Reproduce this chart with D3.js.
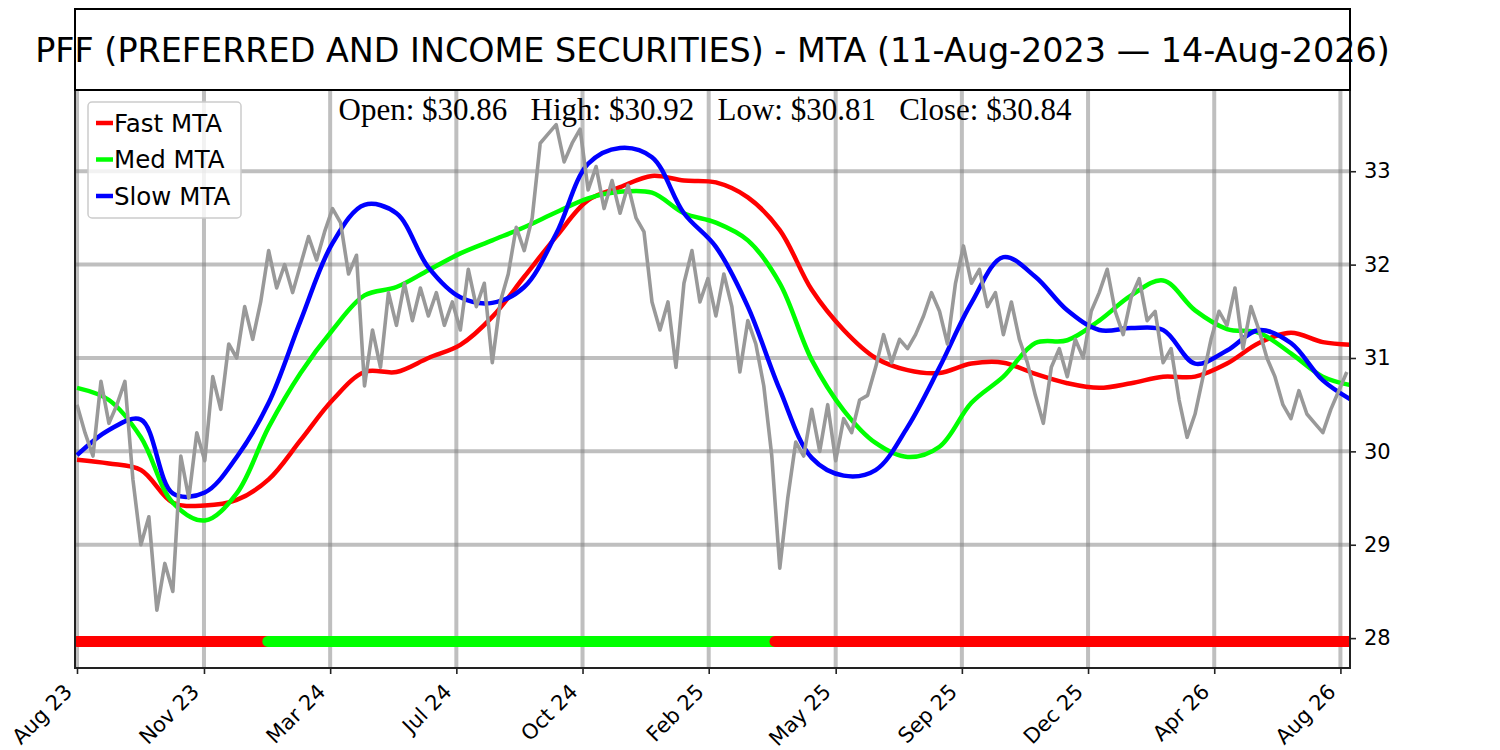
<!DOCTYPE html>
<html>
<head>
<meta charset="utf-8">
<script src="https://cdn.jsdelivr.net/npm/d3@7"></script>
<style>
    body { margin: 0; background: white; }
    text { font-family: "DejaVu Sans", sans-serif; }
</style>
</head>
<body>
<script>
"use strict";

// ticks (positions are bar indices, labels are months)
var tickIdx = [0, 15.9, 31.7, 47.5, 63.3, 79.1, 95.0, 110.8, 126.6, 142.4, 158.2];
var tickLabels = ["Aug 23", "Nov 23", "Mar 24", "Jul 24", "Oct 24", "Feb 25",
    "May 25", "Sep 25", "Dec 25", "Apr 26", "Aug 26"];
var yTicks = [28, 29, 30, 31, 32, 33];

// price, one value every ~5 trading days
var price = [
    30.5, 30.2, 29.95, 30.75, 30.3, 30.5, 30.75, 29.7, 29.0, 29.3,
    28.3, 28.8, 28.5, 29.95, 29.5, 30.2, 29.9, 30.8, 30.45, 31.15,
    31.0, 31.55, 31.2, 31.6, 32.15, 31.75, 32.0, 31.7, 32.0, 32.3,
    32.05, 32.35, 32.6, 32.45, 31.9, 32.1, 30.7, 31.3, 30.9, 31.7,
    31.35, 31.8, 31.4, 31.75, 31.45, 31.7, 31.35, 31.6, 31.3, 31.95,
    31.55, 31.8, 30.95, 31.6, 31.9, 32.4, 32.15, 32.5, 33.3, 33.4,
    33.5, 33.1, 33.3, 33.45, 32.8, 33.05, 32.6, 32.9, 32.55, 32.85,
    32.5, 32.35, 31.6, 31.3, 31.6, 30.9, 31.8, 32.15, 31.6, 31.85,
    31.45, 31.9, 31.55, 30.85, 31.4, 31.15, 30.7, 29.95, 28.75, 29.5,
    30.1, 29.95, 30.45, 30.0, 30.5, 29.9, 30.35, 30.2, 30.55, 30.6,
    30.9, 31.25, 30.95, 31.2, 31.1, 31.25, 31.45, 31.7, 31.5, 31.15,
    31.8, 32.2, 31.8, 31.95, 31.55, 31.7, 31.25, 31.6, 31.2, 30.95,
    30.6, 30.3, 30.9, 31.1, 30.8, 31.2, 31.0, 31.5, 31.7, 31.95,
    31.5, 31.25, 31.65, 31.85, 31.4, 31.5, 30.95, 31.1, 30.55, 30.15,
    30.4, 30.8, 31.2, 31.5, 31.35, 31.75, 31.1, 31.55, 31.3, 31.0,
    30.8, 30.5, 30.35, 30.65, 30.4, 30.3, 30.2, 30.45, 30.65, 30.85
];

// moving trend averages, one value every 4 price bars
var fastMta = [
    29.91, 29.87, 29.8, 29.45, 29.42, 29.48, 29.7, 30.12, 30.55, 30.85,
    30.85, 31.0, 31.14, 31.44, 31.87, 32.3, 32.69, 32.83, 32.95, 32.9,
    32.88, 32.72, 32.37, 31.73, 31.3, 31.0, 30.87, 30.84, 30.94, 30.95,
    30.83, 30.73, 30.68, 30.73, 30.8, 30.8, 30.94, 31.16, 31.27, 31.17, 31.14
];
var medMta = [
    30.68, 30.55, 30.15, 29.45, 29.26, 29.55, 30.26, 30.84, 31.3, 31.67,
    31.76, 31.94, 32.12, 32.26, 32.4, 32.56, 32.71, 32.78, 32.77, 32.55,
    32.45, 32.26, 31.8, 30.98, 30.44, 30.09, 29.94, 30.05, 30.52, 30.8,
    31.16, 31.19, 31.4, 31.67, 31.83, 31.51, 31.31, 31.27, 31.05, 30.8, 30.7
];
var slowMta = [
    29.96, 30.23, 30.34, 29.55, 29.56, 29.94, 30.52, 31.4, 32.23, 32.64,
    32.55, 31.97, 31.65, 31.59, 31.76, 32.33, 33.08, 33.25, 33.15, 32.55,
    32.19, 31.55, 30.66, 29.93, 29.74, 29.8, 30.26, 30.9, 31.59, 32.08,
    31.87, 31.51, 31.3, 31.32, 31.3, 30.94, 31.08, 31.3, 31.16, 30.76, 30.53
];
var mtaStep = 4;

// trend signal bands along the bottom
var signalStart = [0, 23.9, 87.4];
var signalEnd = [23.9, 87.4, 162];
var signalColor = ["#ff0000", "#00ff00", "#ff0000"];
var signalLevel = 27.965;

var seriesNames = ["Fast MTA", "Med MTA", "Slow MTA"];
var seriesColors = ["#ff0000", "#00ff00", "#0000ff"];

var titleText = "PFF (PREFERRED AND INCOME SECURITIES) - MTA (11-Aug-2023 \u2014 14-Aug-2026)";
var ohlcText = "Open: $30.86   High: $30.92   Low: $30.81   Close: $30.84";

var widthEcran = 1500, heightEcran = 750;
var plotLeft = 75, plotRight = 1350, plotTop = 90, plotBottom = 668;

var svg = d3.select("body").append("svg")
    .attr("width", widthEcran)
    .attr("height", heightEcran);

var x = d3.scaleLinear().domain([-0.25, 159.4]).range([plotLeft, plotRight]);
var y = d3.scaleLinear().domain([27.68, 33.87]).range([plotBottom, plotTop]);

svg.append("clipPath").attr("id", "plotClip")
    .append("rect")
    .attr("x", plotLeft).attr("y", plotTop)
    .attr("width", plotRight - plotLeft).attr("height", plotBottom - plotTop);

// grid
var grid = svg.append("g").attr("stroke", "#808080").attr("stroke-opacity", 0.5).attr("stroke-width", 4);
grid.selectAll(".vgrid").data(tickIdx).enter().append("line")
    .attr("x1", function(d) { return x(d); })
    .attr("x2", function(d) { return x(d); })
    .attr("y1", plotTop).attr("y2", plotBottom);
grid.selectAll(".hgrid").data(yTicks).enter().append("line")
    .attr("x1", plotLeft).attr("x2", plotRight)
    .attr("y1", function(d) { return y(d); })
    .attr("y2", function(d) { return y(d); });

var plot = svg.append("g").attr("clip-path", "url(#plotClip)");

// MTA lines
var mtaLine = d3.line()
    .x(function(d, i) { return x(i * mtaStep); })
    .y(function(d) { return y(d); })
    .curve(d3.curveCatmullRom);
[fastMta, medMta, slowMta].forEach(function(s, k) {
    plot.append("path")
        .attr("d", mtaLine(s))
        .attr("fill", "none")
        .attr("stroke", seriesColors[k])
        .attr("stroke-width", 4.5)
        .attr("stroke-linejoin", "round");
});

// price
var priceLine = d3.line()
    .x(function(d, i) { return x(i); })
    .y(function(d) { return y(d); });
plot.append("path")
    .attr("d", priceLine(price))
    .attr("fill", "none")
    .attr("stroke", "#999999")
    .attr("stroke-width", 3.6)
    .attr("stroke-linejoin", "round");

// signal band
plot.selectAll(".signal").data(signalStart).enter().append("line")
    .attr("x1", function(d) { return x(d); })
    .attr("x2", function(d, i) { return x(signalEnd[i]); })
    .attr("y1", y(signalLevel)).attr("y2", y(signalLevel))
    .attr("stroke", function(d, i) { return signalColor[i]; })
    .attr("stroke-width", 11)
    .attr("stroke-linecap", "round");

// axes
var xAxis = d3.axisBottom(x)
    .tickValues(tickIdx)
    .tickFormat(function(d, i) { return tickLabels[i]; })
    .tickSize(6);
var gx = svg.append("g").attr("transform", "translate(0," + plotBottom + ")").call(xAxis);
gx.select(".domain").remove();
gx.selectAll(".tick line").attr("stroke", "#222").attr("stroke-width", 1.6);
gx.selectAll(".tick text")
    .attr("font-size", "21px")
    .attr("font-family", "DejaVu Sans")
    .attr("fill", "black")
    .attr("text-anchor", "end")
    .attr("y", 0).attr("dy", 0)
    .attr("transform", "translate(-4,25) rotate(-45)");

var yAxis = d3.axisRight(y).tickValues(yTicks).tickFormat(d3.format("d")).tickSize(6).tickPadding(8);
var gy = svg.append("g").attr("transform", "translate(" + plotRight + ",0)").call(yAxis);
gy.select(".domain").remove();
gy.selectAll(".tick line").attr("stroke", "#222").attr("stroke-width", 1.6);
gy.selectAll(".tick text")
    .attr("font-size", "21px")
    .attr("font-family", "DejaVu Sans")
    .attr("fill", "black");

// frame
svg.append("path")
    .attr("d", "M" + plotLeft + "," + plotTop + "V" + plotBottom + "H" + plotRight + "V" + plotTop)
    .attr("fill", "none")
    .attr("stroke", "#222")
    .attr("stroke-width", 2);

// title box
svg.append("rect")
    .attr("x", plotLeft).attr("y", 9)
    .attr("width", plotRight - plotLeft).attr("height", plotTop - 9)
    .attr("fill", "white")
    .attr("stroke", "black")
    .attr("stroke-width", 2);
svg.append("text")
    .attr("x", (plotLeft + plotRight) / 2)
    .attr("y", 62)
    .attr("text-anchor", "middle")
    .attr("font-size", "33.4px")
    .text(titleText);

svg.append("text")
    .attr("x", 705)
    .attr("y", 120)
    .attr("text-anchor", "middle")
    .attr("font-size", "31px")
    .style("font-family", "'Liberation Serif', 'DejaVu Serif', serif")
    .style("white-space", "pre")
    .text(ohlcText);

// legend
var legend = svg.append("g");
legend.append("rect")
    .attr("x", 88).attr("y", 102)
    .attr("width", 153).attr("height", 116)
    .attr("rx", 4)
    .attr("fill", "white").attr("fill-opacity", 0.8)
    .attr("stroke", "#cccccc").attr("stroke-width", 1.5);
seriesNames.forEach(function(name, k) {
    var ly = 123 + k * 36.5;
    legend.append("line")
        .attr("x1", 96).attr("x2", 113)
        .attr("y1", ly).attr("y2", ly)
        .attr("stroke", seriesColors[k])
        .attr("stroke-width", 4.5);
    legend.append("text")
        .attr("x", 114).attr("y", ly + 8.5)
        .attr("font-size", "24.5px")
        .text(name);
});
</script>
</body>
</html>
